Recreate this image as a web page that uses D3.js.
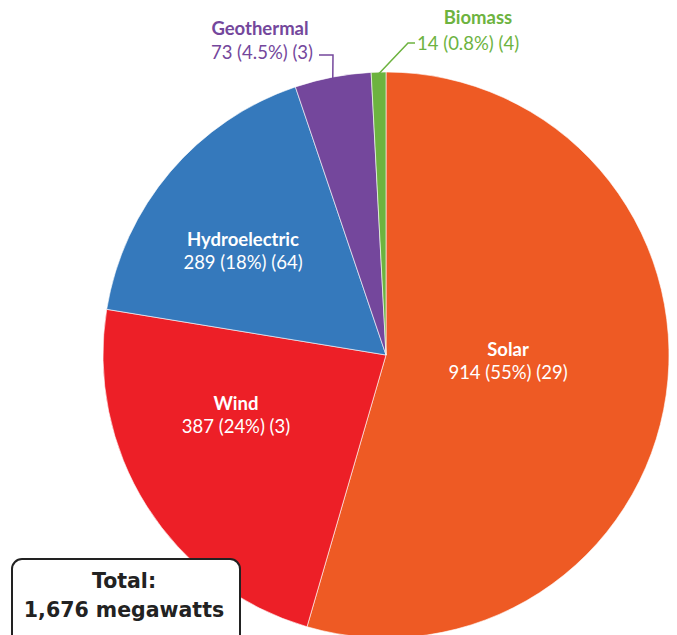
<!DOCTYPE html>
<html>
<head>
<meta charset="utf-8">
<script src="https://cdn.jsdelivr.net/npm/d3@7"></script>
<style>
  body { margin: 0; background: #fff; }
  svg { display: block; }
</style>
</head>
<body>
<div id="chart"></div>
<script>
// chart values
var sources = ["Solar", "Wind", "Hydroelectric", "Geothermal", "Biomass"];
var megawatts = [914, 387, 289, 73, 14];
var percents = ["55%", "24%", "18%", "4.5%", "0.8%"];
var plants = [29, 3, 64, 3, 4];
var colors = ["#ee5a24", "#ed1f27", "#3579bc", "#74479c", "#6db33f"];
var totalText = ["Total:", "1,676 megawatts"];

var svgWidth = 677;
var svgHeight = 635;
var cx = 386, cy = 355, radius = 283;

var svg = d3.select("#chart").append("svg")
  .attr("width", svgWidth)
  .attr("height", svgHeight);

var data = sources.map(function(s, i) {
  return {name: s, value: megawatts[i], pct: percents[i], n: plants[i], color: colors[i]};
});

var pie = d3.pie().sort(null).value(function(d) { return d.value; });
var arc = d3.arc().innerRadius(0).outerRadius(radius);
var arcs = pie(data);

var pieGroup = svg.append("g").attr("transform", "translate(" + cx + "," + cy + ")");

pieGroup.selectAll("path")
  .data(arcs)
  .enter().append("path")
  .attr("d", arc)
  .attr("fill", function(d) { return d.data.color; })
  .attr("stroke", "#fff")
  .attr("stroke-width", 0.6);

var font = "Lato, 'Open Sans', sans-serif";
var fs = 18.5;

// labels inside the big slices
var inside = {Solar: [508, 356], Wind: [236, 410], Hydroelectric: [243, 246]};
arcs.forEach(function(d) {
  var p = inside[d.data.name];
  if (!p) return;
  var t = svg.append("text")
    .attr("x", p[0]).attr("y", p[1])
    .attr("text-anchor", "middle")
    .attr("font-family", font)
    .attr("font-size", fs)
    .attr("fill", "#fff");
  t.append("tspan").attr("x", p[0]).attr("font-weight", "bold").text(d.data.name);
  t.append("tspan").attr("x", p[0]).attr("dy", 23)
    .text(d.data.value + " (" + d.data.pct + ") (" + d.data.n + ")");
});

// outside labels with leader lines
var geo = arcs[3], bio = arcs[4];
function edgePoint(d, r) {
  var a = (d.startAngle + d.endAngle) / 2;
  return [cx + r * Math.sin(a), cy - r * Math.cos(a)];
}

var gp = edgePoint(geo, radius);
svg.append("polyline")
  .attr("points", [[319, 55], [333, 55], [gp[0], gp[1] + 2]].join(" "))
  .attr("fill", "none").attr("stroke", geo.data.color).attr("stroke-width", 1.5);
svg.append("text")
  .attr("x", 260).attr("y", 35)
  .attr("text-anchor", "middle")
  .attr("font-family", font).attr("font-size", fs).attr("font-weight", "bold")
  .attr("fill", geo.data.color).text(geo.data.name);
svg.append("text")
  .attr("x", 313).attr("y", 59)
  .attr("text-anchor", "end")
  .attr("font-family", font).attr("font-size", fs)
  .attr("fill", geo.data.color)
  .text(geo.data.value + " (" + geo.data.pct + ") (" + geo.data.n + ")");

var bp = edgePoint(bio, radius);
svg.append("polyline")
  .attr("points", [[bp[0], bp[1] + 2], [408, 43], [415, 43]].join(" "))
  .attr("fill", "none").attr("stroke", bio.data.color).attr("stroke-width", 1.5);
svg.append("text")
  .attr("x", 478).attr("y", 24)
  .attr("text-anchor", "middle")
  .attr("font-family", font).attr("font-size", fs).attr("font-weight", "bold")
  .attr("fill", bio.data.color).text(bio.data.name);
svg.append("text")
  .attr("x", 417).attr("y", 50)
  .attr("font-family", font).attr("font-size", fs)
  .attr("fill", bio.data.color)
  .text(bio.data.value + " (" + bio.data.pct + ") (" + bio.data.n + ")");

// total box
svg.append("rect")
  .attr("x", 12).attr("y", 559)
  .attr("width", 228).attr("height", 90)
  .attr("rx", 10)
  .attr("fill", "#fff").attr("stroke", "#222").attr("stroke-width", 2);
svg.append("text")
  .attr("x", 124).attr("y", 588)
  .attr("text-anchor", "middle")
  .attr("font-family", "'DejaVu Sans', sans-serif").attr("font-size", 20.5).attr("font-weight", "bold")
  .attr("fill", "#222")
  .selectAll("tspan").data(totalText).enter().append("tspan")
  .attr("x", 124).attr("dy", function(d, i) { return i ? 29 : 0; })
  .text(function(d) { return d; });
</script>
</body>
</html>
